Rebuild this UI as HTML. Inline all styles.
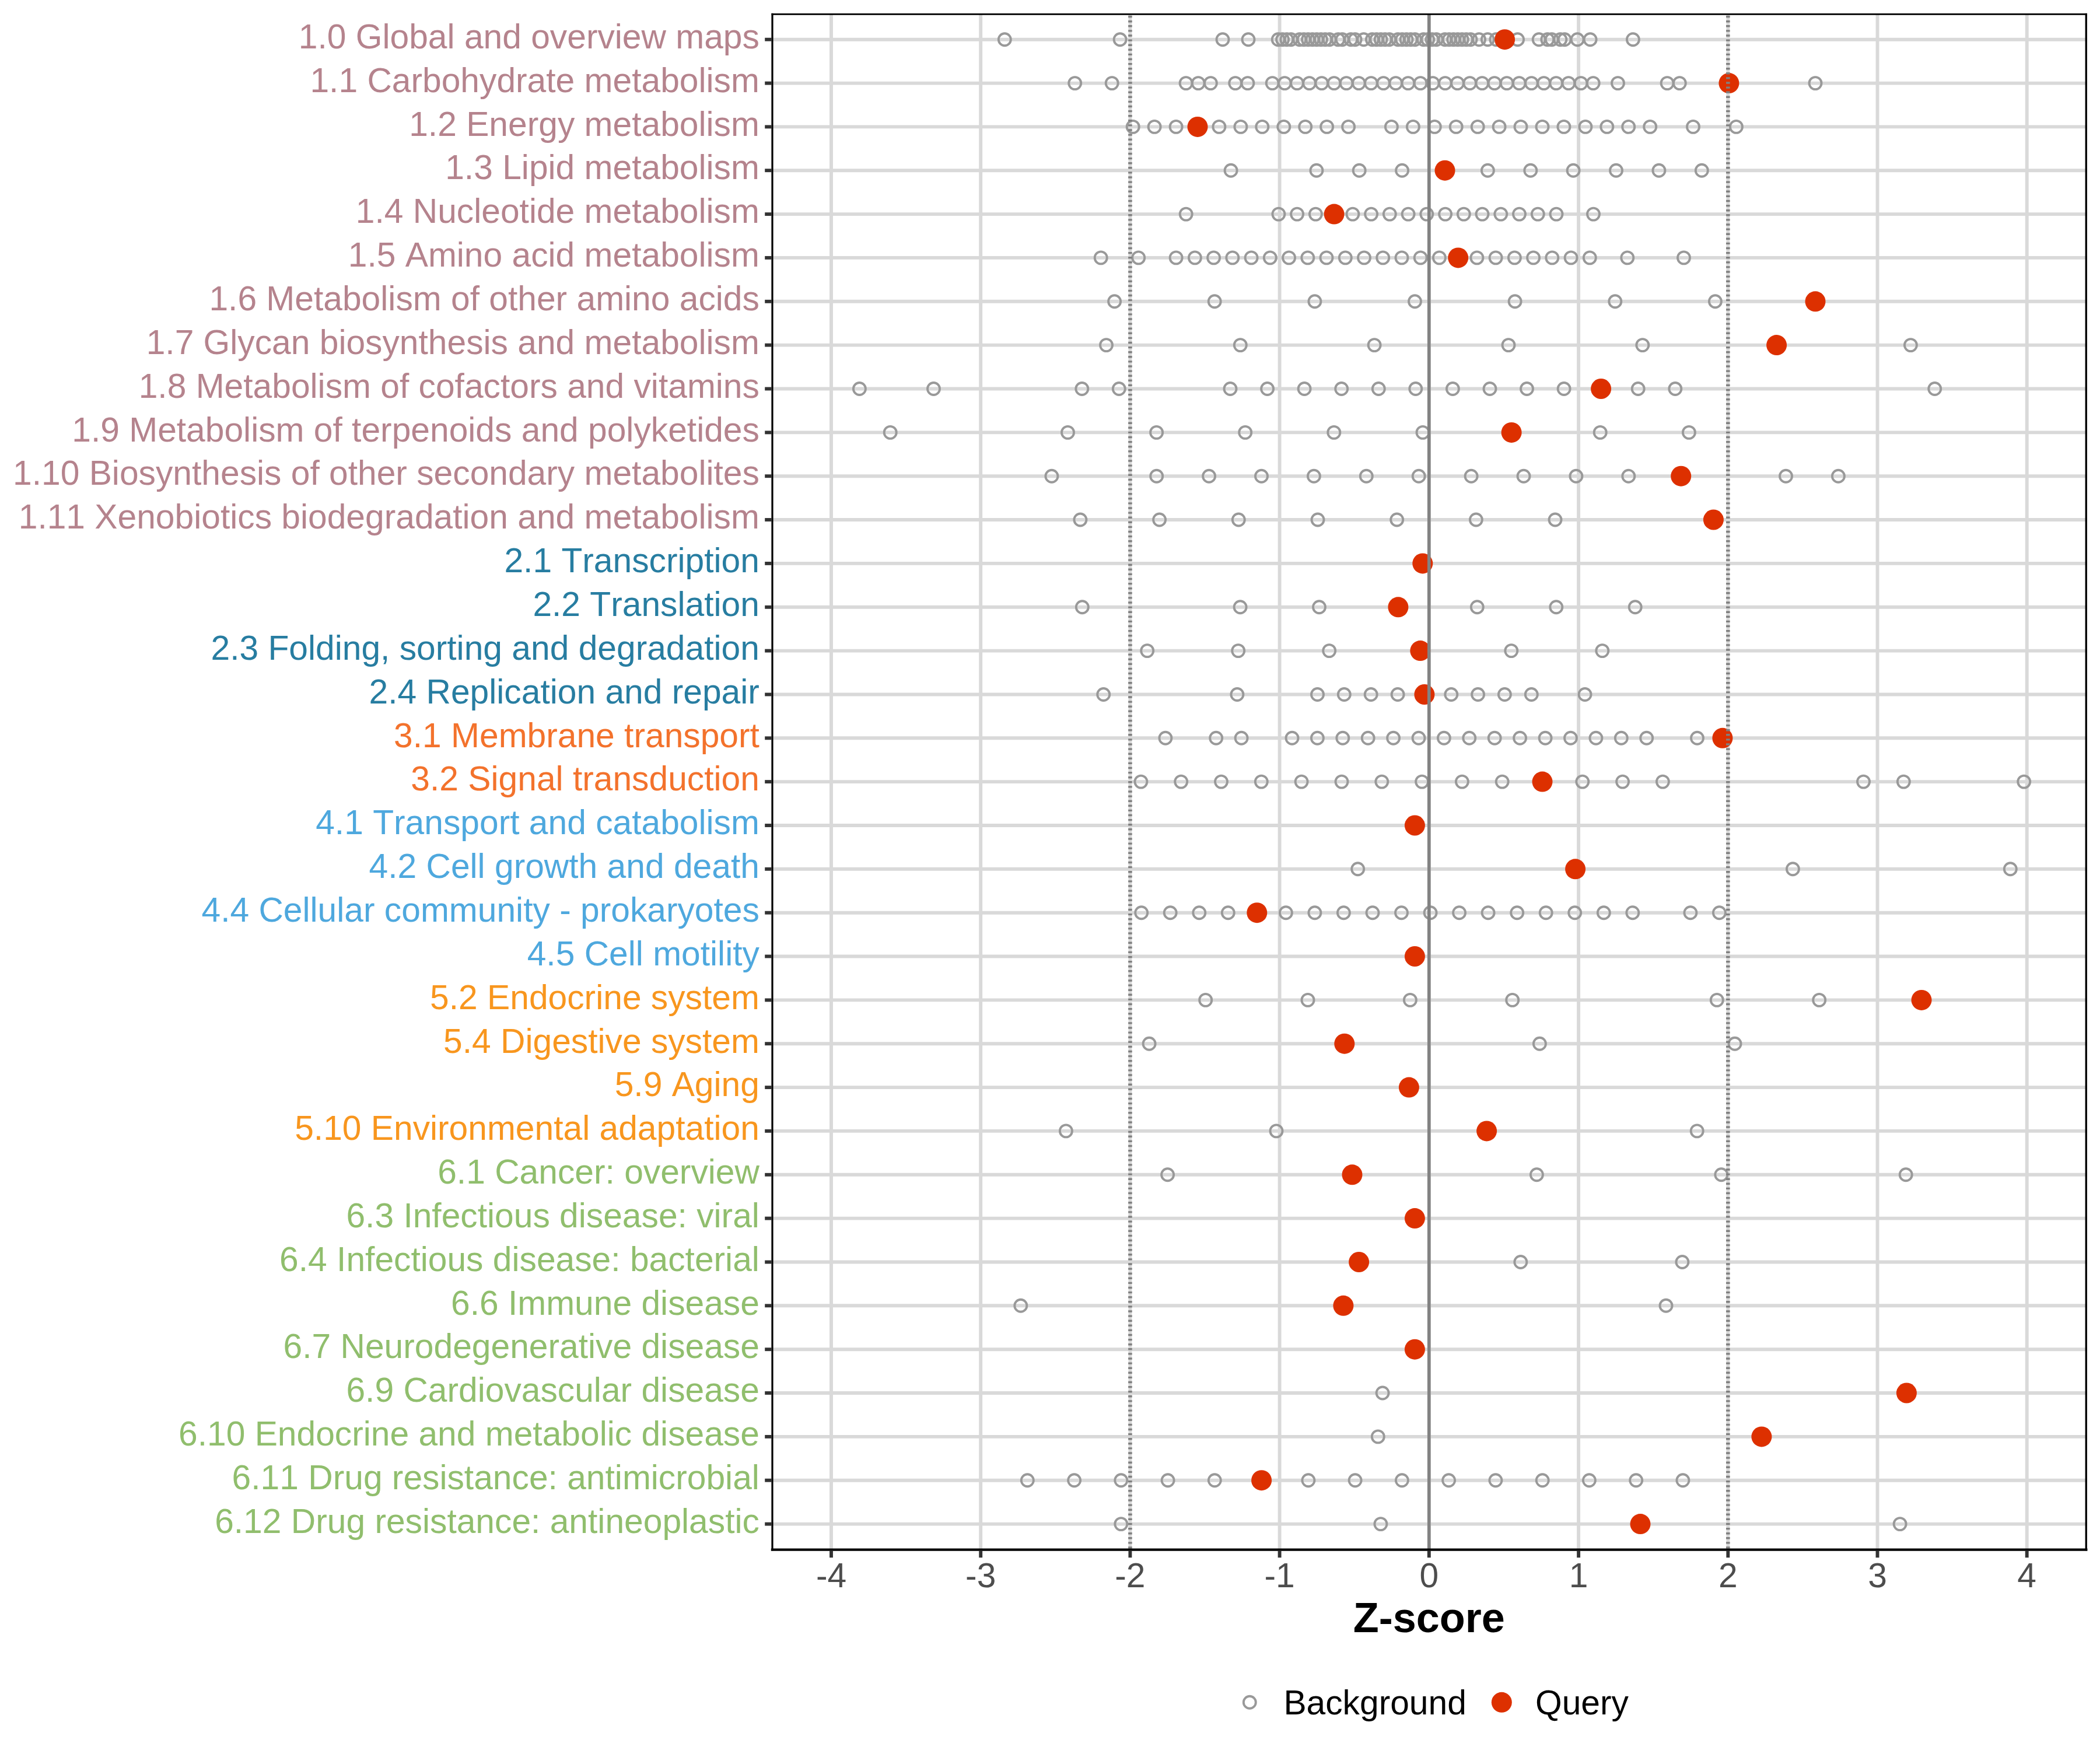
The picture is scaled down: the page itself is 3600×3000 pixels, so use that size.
<!DOCTYPE html>
<html><head><meta charset="utf-8"><title>Z-score</title>
<style>html,body{margin:0;padding:0;background:#fff}svg{display:block}text{font-family:"Liberation Sans",Arial,Helvetica,sans-serif;font-kerning:none}</style>
</head><body>
<svg width="3600" height="3000" viewBox="0 0 3600 3000">
<rect x="0" y="0" width="3600" height="3000" fill="#fff"/>
<g stroke="#D9D9D9" stroke-width="5.9" fill="none">
<line x1="1425.0" y1="22.9" x2="1425.0" y2="2658.8"/>
<line x1="1681.2" y1="22.9" x2="1681.2" y2="2658.8"/>
<line x1="1937.4" y1="22.9" x2="1937.4" y2="2658.8"/>
<line x1="2193.6" y1="22.9" x2="2193.6" y2="2658.8"/>
<line x1="2449.8" y1="22.9" x2="2449.8" y2="2658.8"/>
<line x1="2706.1" y1="22.9" x2="2706.1" y2="2658.8"/>
<line x1="2962.3" y1="22.9" x2="2962.3" y2="2658.8"/>
<line x1="3218.5" y1="22.9" x2="3218.5" y2="2658.8"/>
<line x1="3474.7" y1="22.9" x2="3474.7" y2="2658.8"/>
<line x1="1322.6" y1="67.7" x2="3577.9" y2="67.7"/>
<line x1="1322.6" y1="142.6" x2="3577.9" y2="142.6"/>
<line x1="1322.6" y1="217.4" x2="3577.9" y2="217.4"/>
<line x1="1322.6" y1="292.2" x2="3577.9" y2="292.2"/>
<line x1="1322.6" y1="367.1" x2="3577.9" y2="367.1"/>
<line x1="1322.6" y1="441.9" x2="3577.9" y2="441.9"/>
<line x1="1322.6" y1="516.8" x2="3577.9" y2="516.8"/>
<line x1="1322.6" y1="591.6" x2="3577.9" y2="591.6"/>
<line x1="1322.6" y1="666.5" x2="3577.9" y2="666.5"/>
<line x1="1322.6" y1="741.4" x2="3577.9" y2="741.4"/>
<line x1="1322.6" y1="816.2" x2="3577.9" y2="816.2"/>
<line x1="1322.6" y1="891.0" x2="3577.9" y2="891.0"/>
<line x1="1322.6" y1="965.9" x2="3577.9" y2="965.9"/>
<line x1="1322.6" y1="1040.8" x2="3577.9" y2="1040.8"/>
<line x1="1322.6" y1="1115.6" x2="3577.9" y2="1115.6"/>
<line x1="1322.6" y1="1190.5" x2="3577.9" y2="1190.5"/>
<line x1="1322.6" y1="1265.3" x2="3577.9" y2="1265.3"/>
<line x1="1322.6" y1="1340.1" x2="3577.9" y2="1340.1"/>
<line x1="1322.6" y1="1415.0" x2="3577.9" y2="1415.0"/>
<line x1="1322.6" y1="1489.8" x2="3577.9" y2="1489.8"/>
<line x1="1322.6" y1="1564.7" x2="3577.9" y2="1564.7"/>
<line x1="1322.6" y1="1639.5" x2="3577.9" y2="1639.5"/>
<line x1="1322.6" y1="1714.4" x2="3577.9" y2="1714.4"/>
<line x1="1322.6" y1="1789.2" x2="3577.9" y2="1789.2"/>
<line x1="1322.6" y1="1864.1" x2="3577.9" y2="1864.1"/>
<line x1="1322.6" y1="1938.9" x2="3577.9" y2="1938.9"/>
<line x1="1322.6" y1="2013.8" x2="3577.9" y2="2013.8"/>
<line x1="1322.6" y1="2088.6" x2="3577.9" y2="2088.6"/>
<line x1="1322.6" y1="2163.5" x2="3577.9" y2="2163.5"/>
<line x1="1322.6" y1="2238.3" x2="3577.9" y2="2238.3"/>
<line x1="1322.6" y1="2313.2" x2="3577.9" y2="2313.2"/>
<line x1="1322.6" y1="2388.0" x2="3577.9" y2="2388.0"/>
<line x1="1322.6" y1="2462.9" x2="3577.9" y2="2462.9"/>
<line x1="1322.6" y1="2537.7" x2="3577.9" y2="2537.7"/>
<line x1="1322.6" y1="2612.6" x2="3577.9" y2="2612.6"/>
</g>
<g fill="none" stroke="#999999" stroke-width="3.9">
<circle cx="1722.3" cy="67.7" r="10.5"/>
<circle cx="1920.1" cy="67.7" r="10.5"/>
<circle cx="2096.0" cy="67.7" r="10.5"/>
<circle cx="2140.0" cy="67.7" r="10.5"/>
<circle cx="2191.2" cy="67.7" r="10.5"/>
<circle cx="2198.6" cy="67.7" r="10.5"/>
<circle cx="2205.9" cy="67.7" r="10.5"/>
<circle cx="2213.2" cy="67.7" r="10.5"/>
<circle cx="2227.9" cy="67.7" r="10.5"/>
<circle cx="2235.2" cy="67.7" r="10.5"/>
<circle cx="2242.5" cy="67.7" r="10.5"/>
<circle cx="2249.9" cy="67.7" r="10.5"/>
<circle cx="2257.2" cy="67.7" r="10.5"/>
<circle cx="2264.5" cy="67.7" r="10.5"/>
<circle cx="2271.8" cy="67.7" r="10.5"/>
<circle cx="2279.2" cy="67.7" r="10.5"/>
<circle cx="2293.8" cy="67.7" r="10.5"/>
<circle cx="2301.1" cy="67.7" r="10.5"/>
<circle cx="2315.8" cy="67.7" r="10.5"/>
<circle cx="2323.1" cy="67.7" r="10.5"/>
<circle cx="2337.8" cy="67.7" r="10.5"/>
<circle cx="2352.4" cy="67.7" r="10.5"/>
<circle cx="2359.8" cy="67.7" r="10.5"/>
<circle cx="2367.1" cy="67.7" r="10.5"/>
<circle cx="2374.4" cy="67.7" r="10.5"/>
<circle cx="2381.7" cy="67.7" r="10.5"/>
<circle cx="2396.4" cy="67.7" r="10.5"/>
<circle cx="2403.7" cy="67.7" r="10.5"/>
<circle cx="2411.1" cy="67.7" r="10.5"/>
<circle cx="2418.4" cy="67.7" r="10.5"/>
<circle cx="2425.7" cy="67.7" r="10.5"/>
<circle cx="2440.4" cy="67.7" r="10.5"/>
<circle cx="2447.7" cy="67.7" r="10.5"/>
<circle cx="2455.0" cy="67.7" r="10.5"/>
<circle cx="2462.3" cy="67.7" r="10.5"/>
<circle cx="2477.0" cy="67.7" r="10.5"/>
<circle cx="2484.3" cy="67.7" r="10.5"/>
<circle cx="2491.7" cy="67.7" r="10.5"/>
<circle cx="2499.0" cy="67.7" r="10.5"/>
<circle cx="2506.3" cy="67.7" r="10.5"/>
<circle cx="2513.6" cy="67.7" r="10.5"/>
<circle cx="2521.0" cy="67.7" r="10.5"/>
<circle cx="2535.6" cy="67.7" r="10.5"/>
<circle cx="2550.3" cy="67.7" r="10.5"/>
<circle cx="2564.9" cy="67.7" r="10.5"/>
<circle cx="2601.6" cy="67.7" r="10.5"/>
<circle cx="2638.2" cy="67.7" r="10.5"/>
<circle cx="2652.8" cy="67.7" r="10.5"/>
<circle cx="2660.2" cy="67.7" r="10.5"/>
<circle cx="2674.8" cy="67.7" r="10.5"/>
<circle cx="2682.2" cy="67.7" r="10.5"/>
<circle cx="2704.1" cy="67.7" r="10.5"/>
<circle cx="2726.1" cy="67.7" r="10.5"/>
<circle cx="2799.4" cy="67.7" r="10.5"/>
<circle cx="1842.7" cy="142.6" r="10.5"/>
<circle cx="1906.2" cy="142.6" r="10.5"/>
<circle cx="2033.1" cy="142.6" r="10.5"/>
<circle cx="2054.2" cy="142.6" r="10.5"/>
<circle cx="2075.4" cy="142.6" r="10.5"/>
<circle cx="2117.7" cy="142.6" r="10.5"/>
<circle cx="2138.9" cy="142.6" r="10.5"/>
<circle cx="2181.2" cy="142.6" r="10.5"/>
<circle cx="2202.3" cy="142.6" r="10.5"/>
<circle cx="2223.5" cy="142.6" r="10.5"/>
<circle cx="2244.6" cy="142.6" r="10.5"/>
<circle cx="2265.8" cy="142.6" r="10.5"/>
<circle cx="2287.0" cy="142.6" r="10.5"/>
<circle cx="2308.1" cy="142.6" r="10.5"/>
<circle cx="2329.3" cy="142.6" r="10.5"/>
<circle cx="2350.4" cy="142.6" r="10.5"/>
<circle cx="2371.6" cy="142.6" r="10.5"/>
<circle cx="2392.7" cy="142.6" r="10.5"/>
<circle cx="2413.9" cy="142.6" r="10.5"/>
<circle cx="2435.0" cy="142.6" r="10.5"/>
<circle cx="2456.2" cy="142.6" r="10.5"/>
<circle cx="2477.4" cy="142.6" r="10.5"/>
<circle cx="2498.5" cy="142.6" r="10.5"/>
<circle cx="2519.7" cy="142.6" r="10.5"/>
<circle cx="2540.8" cy="142.6" r="10.5"/>
<circle cx="2562.0" cy="142.6" r="10.5"/>
<circle cx="2583.1" cy="142.6" r="10.5"/>
<circle cx="2604.3" cy="142.6" r="10.5"/>
<circle cx="2625.4" cy="142.6" r="10.5"/>
<circle cx="2646.6" cy="142.6" r="10.5"/>
<circle cx="2667.7" cy="142.6" r="10.5"/>
<circle cx="2688.9" cy="142.6" r="10.5"/>
<circle cx="2710.1" cy="142.6" r="10.5"/>
<circle cx="2731.2" cy="142.6" r="10.5"/>
<circle cx="2773.5" cy="142.6" r="10.5"/>
<circle cx="2858.1" cy="142.6" r="10.5"/>
<circle cx="2879.3" cy="142.6" r="10.5"/>
<circle cx="3112.0" cy="142.6" r="10.5"/>
<circle cx="1942.2" cy="217.4" r="10.5"/>
<circle cx="1979.1" cy="217.4" r="10.5"/>
<circle cx="2016.1" cy="217.4" r="10.5"/>
<circle cx="2089.9" cy="217.4" r="10.5"/>
<circle cx="2126.9" cy="217.4" r="10.5"/>
<circle cx="2163.8" cy="217.4" r="10.5"/>
<circle cx="2200.8" cy="217.4" r="10.5"/>
<circle cx="2237.7" cy="217.4" r="10.5"/>
<circle cx="2274.6" cy="217.4" r="10.5"/>
<circle cx="2311.6" cy="217.4" r="10.5"/>
<circle cx="2385.4" cy="217.4" r="10.5"/>
<circle cx="2422.4" cy="217.4" r="10.5"/>
<circle cx="2459.3" cy="217.4" r="10.5"/>
<circle cx="2496.2" cy="217.4" r="10.5"/>
<circle cx="2533.2" cy="217.4" r="10.5"/>
<circle cx="2570.1" cy="217.4" r="10.5"/>
<circle cx="2607.0" cy="217.4" r="10.5"/>
<circle cx="2644.0" cy="217.4" r="10.5"/>
<circle cx="2680.9" cy="217.4" r="10.5"/>
<circle cx="2717.9" cy="217.4" r="10.5"/>
<circle cx="2754.8" cy="217.4" r="10.5"/>
<circle cx="2791.7" cy="217.4" r="10.5"/>
<circle cx="2828.7" cy="217.4" r="10.5"/>
<circle cx="2902.5" cy="217.4" r="10.5"/>
<circle cx="2976.4" cy="217.4" r="10.5"/>
<circle cx="2110.1" cy="292.2" r="10.5"/>
<circle cx="2256.9" cy="292.2" r="10.5"/>
<circle cx="2330.2" cy="292.2" r="10.5"/>
<circle cx="2403.6" cy="292.2" r="10.5"/>
<circle cx="2550.4" cy="292.2" r="10.5"/>
<circle cx="2623.8" cy="292.2" r="10.5"/>
<circle cx="2697.1" cy="292.2" r="10.5"/>
<circle cx="2770.5" cy="292.2" r="10.5"/>
<circle cx="2843.9" cy="292.2" r="10.5"/>
<circle cx="2917.3" cy="292.2" r="10.5"/>
<circle cx="2033.2" cy="367.1" r="10.5"/>
<circle cx="2191.9" cy="367.1" r="10.5"/>
<circle cx="2223.6" cy="367.1" r="10.5"/>
<circle cx="2255.4" cy="367.1" r="10.5"/>
<circle cx="2318.9" cy="367.1" r="10.5"/>
<circle cx="2350.6" cy="367.1" r="10.5"/>
<circle cx="2382.3" cy="367.1" r="10.5"/>
<circle cx="2414.1" cy="367.1" r="10.5"/>
<circle cx="2445.8" cy="367.1" r="10.5"/>
<circle cx="2477.6" cy="367.1" r="10.5"/>
<circle cx="2509.3" cy="367.1" r="10.5"/>
<circle cx="2541.0" cy="367.1" r="10.5"/>
<circle cx="2572.8" cy="367.1" r="10.5"/>
<circle cx="2604.5" cy="367.1" r="10.5"/>
<circle cx="2636.3" cy="367.1" r="10.5"/>
<circle cx="2668.0" cy="367.1" r="10.5"/>
<circle cx="2731.5" cy="367.1" r="10.5"/>
<circle cx="1887.2" cy="441.9" r="10.5"/>
<circle cx="1951.7" cy="441.9" r="10.5"/>
<circle cx="2016.1" cy="441.9" r="10.5"/>
<circle cx="2048.4" cy="441.9" r="10.5"/>
<circle cx="2080.6" cy="441.9" r="10.5"/>
<circle cx="2112.8" cy="441.9" r="10.5"/>
<circle cx="2145.1" cy="441.9" r="10.5"/>
<circle cx="2177.3" cy="441.9" r="10.5"/>
<circle cx="2209.6" cy="441.9" r="10.5"/>
<circle cx="2241.8" cy="441.9" r="10.5"/>
<circle cx="2274.0" cy="441.9" r="10.5"/>
<circle cx="2306.3" cy="441.9" r="10.5"/>
<circle cx="2338.5" cy="441.9" r="10.5"/>
<circle cx="2370.7" cy="441.9" r="10.5"/>
<circle cx="2403.0" cy="441.9" r="10.5"/>
<circle cx="2435.2" cy="441.9" r="10.5"/>
<circle cx="2467.4" cy="441.9" r="10.5"/>
<circle cx="2531.9" cy="441.9" r="10.5"/>
<circle cx="2564.1" cy="441.9" r="10.5"/>
<circle cx="2596.4" cy="441.9" r="10.5"/>
<circle cx="2628.6" cy="441.9" r="10.5"/>
<circle cx="2660.8" cy="441.9" r="10.5"/>
<circle cx="2693.1" cy="441.9" r="10.5"/>
<circle cx="2725.3" cy="441.9" r="10.5"/>
<circle cx="2789.8" cy="441.9" r="10.5"/>
<circle cx="2886.5" cy="441.9" r="10.5"/>
<circle cx="1910.6" cy="516.8" r="10.5"/>
<circle cx="2082.2" cy="516.8" r="10.5"/>
<circle cx="2253.9" cy="516.8" r="10.5"/>
<circle cx="2425.5" cy="516.8" r="10.5"/>
<circle cx="2597.1" cy="516.8" r="10.5"/>
<circle cx="2768.8" cy="516.8" r="10.5"/>
<circle cx="2940.4" cy="516.8" r="10.5"/>
<circle cx="1896.5" cy="591.6" r="10.5"/>
<circle cx="2126.3" cy="591.6" r="10.5"/>
<circle cx="2356.1" cy="591.6" r="10.5"/>
<circle cx="2586.0" cy="591.6" r="10.5"/>
<circle cx="2815.8" cy="591.6" r="10.5"/>
<circle cx="3275.4" cy="591.6" r="10.5"/>
<circle cx="1473.4" cy="666.5" r="10.5"/>
<circle cx="1600.5" cy="666.5" r="10.5"/>
<circle cx="1854.8" cy="666.5" r="10.5"/>
<circle cx="1918.3" cy="666.5" r="10.5"/>
<circle cx="2109.0" cy="666.5" r="10.5"/>
<circle cx="2172.6" cy="666.5" r="10.5"/>
<circle cx="2236.1" cy="666.5" r="10.5"/>
<circle cx="2299.7" cy="666.5" r="10.5"/>
<circle cx="2363.3" cy="666.5" r="10.5"/>
<circle cx="2426.8" cy="666.5" r="10.5"/>
<circle cx="2490.4" cy="666.5" r="10.5"/>
<circle cx="2554.0" cy="666.5" r="10.5"/>
<circle cx="2617.5" cy="666.5" r="10.5"/>
<circle cx="2681.1" cy="666.5" r="10.5"/>
<circle cx="2808.2" cy="666.5" r="10.5"/>
<circle cx="2871.8" cy="666.5" r="10.5"/>
<circle cx="3316.7" cy="666.5" r="10.5"/>
<circle cx="1526.2" cy="741.4" r="10.5"/>
<circle cx="1830.5" cy="741.4" r="10.5"/>
<circle cx="1982.6" cy="741.4" r="10.5"/>
<circle cx="2134.7" cy="741.4" r="10.5"/>
<circle cx="2286.8" cy="741.4" r="10.5"/>
<circle cx="2439.0" cy="741.4" r="10.5"/>
<circle cx="2743.2" cy="741.4" r="10.5"/>
<circle cx="2895.4" cy="741.4" r="10.5"/>
<circle cx="1802.9" cy="816.2" r="10.5"/>
<circle cx="1982.7" cy="816.2" r="10.5"/>
<circle cx="2072.6" cy="816.2" r="10.5"/>
<circle cx="2162.5" cy="816.2" r="10.5"/>
<circle cx="2252.4" cy="816.2" r="10.5"/>
<circle cx="2342.3" cy="816.2" r="10.5"/>
<circle cx="2432.2" cy="816.2" r="10.5"/>
<circle cx="2522.1" cy="816.2" r="10.5"/>
<circle cx="2612.0" cy="816.2" r="10.5"/>
<circle cx="2701.9" cy="816.2" r="10.5"/>
<circle cx="2791.8" cy="816.2" r="10.5"/>
<circle cx="3061.5" cy="816.2" r="10.5"/>
<circle cx="3151.4" cy="816.2" r="10.5"/>
<circle cx="1851.9" cy="891.0" r="10.5"/>
<circle cx="1987.6" cy="891.0" r="10.5"/>
<circle cx="2123.3" cy="891.0" r="10.5"/>
<circle cx="2259.0" cy="891.0" r="10.5"/>
<circle cx="2394.7" cy="891.0" r="10.5"/>
<circle cx="2530.4" cy="891.0" r="10.5"/>
<circle cx="2666.0" cy="891.0" r="10.5"/>
<circle cx="1855.3" cy="1040.8" r="10.5"/>
<circle cx="2126.1" cy="1040.8" r="10.5"/>
<circle cx="2261.5" cy="1040.8" r="10.5"/>
<circle cx="2532.3" cy="1040.8" r="10.5"/>
<circle cx="2667.8" cy="1040.8" r="10.5"/>
<circle cx="2803.2" cy="1040.8" r="10.5"/>
<circle cx="1966.7" cy="1115.6" r="10.5"/>
<circle cx="2122.7" cy="1115.6" r="10.5"/>
<circle cx="2278.7" cy="1115.6" r="10.5"/>
<circle cx="2590.8" cy="1115.6" r="10.5"/>
<circle cx="2746.8" cy="1115.6" r="10.5"/>
<circle cx="1891.7" cy="1190.5" r="10.5"/>
<circle cx="2120.9" cy="1190.5" r="10.5"/>
<circle cx="2258.5" cy="1190.5" r="10.5"/>
<circle cx="2304.3" cy="1190.5" r="10.5"/>
<circle cx="2350.2" cy="1190.5" r="10.5"/>
<circle cx="2396.1" cy="1190.5" r="10.5"/>
<circle cx="2487.8" cy="1190.5" r="10.5"/>
<circle cx="2533.6" cy="1190.5" r="10.5"/>
<circle cx="2579.4" cy="1190.5" r="10.5"/>
<circle cx="2625.3" cy="1190.5" r="10.5"/>
<circle cx="2717.0" cy="1190.5" r="10.5"/>
<circle cx="1997.9" cy="1265.3" r="10.5"/>
<circle cx="2084.7" cy="1265.3" r="10.5"/>
<circle cx="2128.1" cy="1265.3" r="10.5"/>
<circle cx="2215.0" cy="1265.3" r="10.5"/>
<circle cx="2258.4" cy="1265.3" r="10.5"/>
<circle cx="2301.8" cy="1265.3" r="10.5"/>
<circle cx="2345.2" cy="1265.3" r="10.5"/>
<circle cx="2388.6" cy="1265.3" r="10.5"/>
<circle cx="2432.0" cy="1265.3" r="10.5"/>
<circle cx="2475.4" cy="1265.3" r="10.5"/>
<circle cx="2518.8" cy="1265.3" r="10.5"/>
<circle cx="2562.2" cy="1265.3" r="10.5"/>
<circle cx="2605.6" cy="1265.3" r="10.5"/>
<circle cx="2649.1" cy="1265.3" r="10.5"/>
<circle cx="2692.5" cy="1265.3" r="10.5"/>
<circle cx="2735.9" cy="1265.3" r="10.5"/>
<circle cx="2779.3" cy="1265.3" r="10.5"/>
<circle cx="2822.7" cy="1265.3" r="10.5"/>
<circle cx="2909.5" cy="1265.3" r="10.5"/>
<circle cx="1955.9" cy="1340.1" r="10.5"/>
<circle cx="2024.7" cy="1340.1" r="10.5"/>
<circle cx="2093.5" cy="1340.1" r="10.5"/>
<circle cx="2162.3" cy="1340.1" r="10.5"/>
<circle cx="2231.1" cy="1340.1" r="10.5"/>
<circle cx="2300.0" cy="1340.1" r="10.5"/>
<circle cx="2368.8" cy="1340.1" r="10.5"/>
<circle cx="2437.6" cy="1340.1" r="10.5"/>
<circle cx="2506.4" cy="1340.1" r="10.5"/>
<circle cx="2575.2" cy="1340.1" r="10.5"/>
<circle cx="2712.8" cy="1340.1" r="10.5"/>
<circle cx="2781.6" cy="1340.1" r="10.5"/>
<circle cx="2850.4" cy="1340.1" r="10.5"/>
<circle cx="3194.5" cy="1340.1" r="10.5"/>
<circle cx="3263.3" cy="1340.1" r="10.5"/>
<circle cx="3469.7" cy="1340.1" r="10.5"/>
<circle cx="2327.7" cy="1489.8" r="10.5"/>
<circle cx="3073.4" cy="1489.8" r="10.5"/>
<circle cx="3446.3" cy="1489.8" r="10.5"/>
<circle cx="1956.7" cy="1564.7" r="10.5"/>
<circle cx="2006.2" cy="1564.7" r="10.5"/>
<circle cx="2055.8" cy="1564.7" r="10.5"/>
<circle cx="2105.3" cy="1564.7" r="10.5"/>
<circle cx="2204.4" cy="1564.7" r="10.5"/>
<circle cx="2253.9" cy="1564.7" r="10.5"/>
<circle cx="2303.4" cy="1564.7" r="10.5"/>
<circle cx="2353.0" cy="1564.7" r="10.5"/>
<circle cx="2402.5" cy="1564.7" r="10.5"/>
<circle cx="2452.1" cy="1564.7" r="10.5"/>
<circle cx="2501.6" cy="1564.7" r="10.5"/>
<circle cx="2551.1" cy="1564.7" r="10.5"/>
<circle cx="2600.7" cy="1564.7" r="10.5"/>
<circle cx="2650.2" cy="1564.7" r="10.5"/>
<circle cx="2699.7" cy="1564.7" r="10.5"/>
<circle cx="2749.3" cy="1564.7" r="10.5"/>
<circle cx="2798.8" cy="1564.7" r="10.5"/>
<circle cx="2897.9" cy="1564.7" r="10.5"/>
<circle cx="2947.4" cy="1564.7" r="10.5"/>
<circle cx="2066.7" cy="1714.4" r="10.5"/>
<circle cx="2242.0" cy="1714.4" r="10.5"/>
<circle cx="2417.4" cy="1714.4" r="10.5"/>
<circle cx="2592.7" cy="1714.4" r="10.5"/>
<circle cx="2943.3" cy="1714.4" r="10.5"/>
<circle cx="3118.7" cy="1714.4" r="10.5"/>
<circle cx="1970.1" cy="1789.2" r="10.5"/>
<circle cx="2639.4" cy="1789.2" r="10.5"/>
<circle cx="2974.0" cy="1789.2" r="10.5"/>
<circle cx="1827.4" cy="1938.9" r="10.5"/>
<circle cx="2188.0" cy="1938.9" r="10.5"/>
<circle cx="2909.2" cy="1938.9" r="10.5"/>
<circle cx="2001.6" cy="2013.8" r="10.5"/>
<circle cx="2634.4" cy="2013.8" r="10.5"/>
<circle cx="2950.8" cy="2013.8" r="10.5"/>
<circle cx="3267.2" cy="2013.8" r="10.5"/>
<circle cx="2606.8" cy="2163.5" r="10.5"/>
<circle cx="2883.9" cy="2163.5" r="10.5"/>
<circle cx="1749.8" cy="2238.3" r="10.5"/>
<circle cx="2856.0" cy="2238.3" r="10.5"/>
<circle cx="2370.1" cy="2388.0" r="10.5"/>
<circle cx="2362.3" cy="2462.9" r="10.5"/>
<circle cx="1761.3" cy="2537.7" r="10.5"/>
<circle cx="1841.6" cy="2537.7" r="10.5"/>
<circle cx="1921.8" cy="2537.7" r="10.5"/>
<circle cx="2002.1" cy="2537.7" r="10.5"/>
<circle cx="2082.3" cy="2537.7" r="10.5"/>
<circle cx="2242.9" cy="2537.7" r="10.5"/>
<circle cx="2323.1" cy="2537.7" r="10.5"/>
<circle cx="2403.4" cy="2537.7" r="10.5"/>
<circle cx="2483.6" cy="2537.7" r="10.5"/>
<circle cx="2563.9" cy="2537.7" r="10.5"/>
<circle cx="2644.2" cy="2537.7" r="10.5"/>
<circle cx="2724.4" cy="2537.7" r="10.5"/>
<circle cx="2804.7" cy="2537.7" r="10.5"/>
<circle cx="2884.9" cy="2537.7" r="10.5"/>
<circle cx="1921.8" cy="2612.6" r="10.5"/>
<circle cx="2366.9" cy="2612.6" r="10.5"/>
<circle cx="3257.1" cy="2612.6" r="10.5"/>
</g>
<g fill="#DD3000">
<circle cx="2579.6" cy="67.7" r="17.5"/>
<circle cx="2963.9" cy="142.6" r="17.5"/>
<circle cx="2053.0" cy="217.4" r="17.5"/>
<circle cx="2477.0" cy="292.2" r="17.5"/>
<circle cx="2287.1" cy="367.1" r="17.5"/>
<circle cx="2499.7" cy="441.9" r="17.5"/>
<circle cx="3112.0" cy="516.8" r="17.5"/>
<circle cx="3045.6" cy="591.6" r="17.5"/>
<circle cx="2744.6" cy="666.5" r="17.5"/>
<circle cx="2591.1" cy="741.4" r="17.5"/>
<circle cx="2881.7" cy="816.2" r="17.5"/>
<circle cx="2937.4" cy="891.0" r="17.5"/>
<circle cx="2438.8" cy="965.9" r="17.5"/>
<circle cx="2396.9" cy="1040.8" r="17.5"/>
<circle cx="2434.8" cy="1115.6" r="17.5"/>
<circle cx="2441.9" cy="1190.5" r="17.5"/>
<circle cx="2952.9" cy="1265.3" r="17.5"/>
<circle cx="2644.0" cy="1340.1" r="17.5"/>
<circle cx="2425.4" cy="1415.0" r="17.5"/>
<circle cx="2700.6" cy="1489.8" r="17.5"/>
<circle cx="2154.8" cy="1564.7" r="17.5"/>
<circle cx="2425.4" cy="1639.5" r="17.5"/>
<circle cx="3294.0" cy="1714.4" r="17.5"/>
<circle cx="2304.8" cy="1789.2" r="17.5"/>
<circle cx="2415.4" cy="1864.1" r="17.5"/>
<circle cx="2548.6" cy="1938.9" r="17.5"/>
<circle cx="2318.0" cy="2013.8" r="17.5"/>
<circle cx="2425.4" cy="2088.6" r="17.5"/>
<circle cx="2329.6" cy="2163.5" r="17.5"/>
<circle cx="2302.9" cy="2238.3" r="17.5"/>
<circle cx="2425.4" cy="2313.2" r="17.5"/>
<circle cx="3268.4" cy="2388.0" r="17.5"/>
<circle cx="3019.9" cy="2462.9" r="17.5"/>
<circle cx="2162.6" cy="2537.7" r="17.5"/>
<circle cx="2812.0" cy="2612.6" r="17.5"/>
</g>
<line x1="2449.8" y1="22.9" x2="2449.8" y2="2658.8" stroke="#828282" stroke-width="5.6"/>
<line x1="1937.4" y1="26.9" x2="1937.4" y2="2658.8" stroke="#808080" stroke-width="6.6" stroke-dasharray="3.4 4.7"/>
<line x1="2962.3" y1="26.9" x2="2962.3" y2="2658.8" stroke="#808080" stroke-width="6.6" stroke-dasharray="3.4 4.7"/>
<g stroke="#000" fill="none" stroke-linecap="square">
<line x1="1324.0" y1="24.35" x2="3576.25" y2="24.35" stroke-width="2.8"/>
<line x1="1324.0" y1="24.35" x2="1324.0" y2="2656.6" stroke-width="3.2"/>
<line x1="3576.25" y1="24.35" x2="3576.25" y2="2656.6" stroke-width="3.3"/>
<line x1="1324.0" y1="2656.6" x2="3576.25" y2="2656.6" stroke-width="4.4"/>
</g>
<g stroke="#333333" stroke-width="5.9">
<line x1="1311.2" y1="67.7" x2="1322.6" y2="67.7"/>
<line x1="1311.2" y1="142.6" x2="1322.6" y2="142.6"/>
<line x1="1311.2" y1="217.4" x2="1322.6" y2="217.4"/>
<line x1="1311.2" y1="292.2" x2="1322.6" y2="292.2"/>
<line x1="1311.2" y1="367.1" x2="1322.6" y2="367.1"/>
<line x1="1311.2" y1="441.9" x2="1322.6" y2="441.9"/>
<line x1="1311.2" y1="516.8" x2="1322.6" y2="516.8"/>
<line x1="1311.2" y1="591.6" x2="1322.6" y2="591.6"/>
<line x1="1311.2" y1="666.5" x2="1322.6" y2="666.5"/>
<line x1="1311.2" y1="741.4" x2="1322.6" y2="741.4"/>
<line x1="1311.2" y1="816.2" x2="1322.6" y2="816.2"/>
<line x1="1311.2" y1="891.0" x2="1322.6" y2="891.0"/>
<line x1="1311.2" y1="965.9" x2="1322.6" y2="965.9"/>
<line x1="1311.2" y1="1040.8" x2="1322.6" y2="1040.8"/>
<line x1="1311.2" y1="1115.6" x2="1322.6" y2="1115.6"/>
<line x1="1311.2" y1="1190.5" x2="1322.6" y2="1190.5"/>
<line x1="1311.2" y1="1265.3" x2="1322.6" y2="1265.3"/>
<line x1="1311.2" y1="1340.1" x2="1322.6" y2="1340.1"/>
<line x1="1311.2" y1="1415.0" x2="1322.6" y2="1415.0"/>
<line x1="1311.2" y1="1489.8" x2="1322.6" y2="1489.8"/>
<line x1="1311.2" y1="1564.7" x2="1322.6" y2="1564.7"/>
<line x1="1311.2" y1="1639.5" x2="1322.6" y2="1639.5"/>
<line x1="1311.2" y1="1714.4" x2="1322.6" y2="1714.4"/>
<line x1="1311.2" y1="1789.2" x2="1322.6" y2="1789.2"/>
<line x1="1311.2" y1="1864.1" x2="1322.6" y2="1864.1"/>
<line x1="1311.2" y1="1938.9" x2="1322.6" y2="1938.9"/>
<line x1="1311.2" y1="2013.8" x2="1322.6" y2="2013.8"/>
<line x1="1311.2" y1="2088.6" x2="1322.6" y2="2088.6"/>
<line x1="1311.2" y1="2163.5" x2="1322.6" y2="2163.5"/>
<line x1="1311.2" y1="2238.3" x2="1322.6" y2="2238.3"/>
<line x1="1311.2" y1="2313.2" x2="1322.6" y2="2313.2"/>
<line x1="1311.2" y1="2388.0" x2="1322.6" y2="2388.0"/>
<line x1="1311.2" y1="2462.9" x2="1322.6" y2="2462.9"/>
<line x1="1311.2" y1="2537.7" x2="1322.6" y2="2537.7"/>
<line x1="1311.2" y1="2612.6" x2="1322.6" y2="2612.6"/>
<line x1="1425.0" y1="2658.8" x2="1425.0" y2="2670.2"/>
<line x1="1681.2" y1="2658.8" x2="1681.2" y2="2670.2"/>
<line x1="1937.4" y1="2658.8" x2="1937.4" y2="2670.2"/>
<line x1="2193.6" y1="2658.8" x2="2193.6" y2="2670.2"/>
<line x1="2449.8" y1="2658.8" x2="2449.8" y2="2670.2"/>
<line x1="2706.1" y1="2658.8" x2="2706.1" y2="2670.2"/>
<line x1="2962.3" y1="2658.8" x2="2962.3" y2="2670.2"/>
<line x1="3218.5" y1="2658.8" x2="3218.5" y2="2670.2"/>
<line x1="3474.7" y1="2658.8" x2="3474.7" y2="2670.2"/>
</g>
<g font-size="58.74" text-anchor="end">
<text x="1301.9" y="82.9" fill="#B5838D">1.0 Global and overview maps</text>
<text x="1301.9" y="157.8" fill="#B5838D">1.1 Carbohydrate metabolism</text>
<text x="1301.9" y="232.6" fill="#B5838D">1.2 Energy metabolism</text>
<text x="1301.9" y="307.4" fill="#B5838D">1.3 Lipid metabolism</text>
<text x="1301.9" y="382.3" fill="#B5838D">1.4 Nucleotide metabolism</text>
<text x="1301.9" y="457.1" fill="#B5838D">1.5 Amino acid metabolism</text>
<text x="1301.9" y="532.0" fill="#B5838D">1.6 Metabolism of other amino acids</text>
<text x="1301.9" y="606.9" fill="#B5838D">1.7 Glycan biosynthesis and metabolism</text>
<text x="1301.9" y="681.7" fill="#B5838D">1.8 Metabolism of cofactors and vitamins</text>
<text x="1301.9" y="756.6" fill="#B5838D">1.9 Metabolism of terpenoids and polyketides</text>
<text x="1301.9" y="831.4" fill="#B5838D">1.10 Biosynthesis of other secondary metabolites</text>
<text x="1301.9" y="906.2" fill="#B5838D">1.11 Xenobiotics biodegradation and metabolism</text>
<text x="1301.9" y="981.1" fill="#277DA1">2.1 Transcription</text>
<text x="1301.9" y="1056.0" fill="#277DA1">2.2 Translation</text>
<text x="1301.9" y="1130.8" fill="#277DA1">2.3 Folding, sorting and degradation</text>
<text x="1301.9" y="1205.7" fill="#277DA1">2.4 Replication and repair</text>
<text x="1301.9" y="1280.5" fill="#F3722C">3.1 Membrane transport</text>
<text x="1301.9" y="1355.3" fill="#F3722C">3.2 Signal transduction</text>
<text x="1301.9" y="1430.2" fill="#4EA8DE">4.1 Transport and catabolism</text>
<text x="1301.9" y="1505.0" fill="#4EA8DE">4.2 Cell growth and death</text>
<text x="1301.9" y="1579.9" fill="#4EA8DE">4.4 Cellular community - prokaryotes</text>
<text x="1301.9" y="1654.8" fill="#4EA8DE">4.5 Cell motility</text>
<text x="1301.9" y="1729.6" fill="#F8961E">5.2 Endocrine system</text>
<text x="1301.9" y="1804.5" fill="#F8961E">5.4 Digestive system</text>
<text x="1301.9" y="1879.3" fill="#F8961E">5.9 Aging</text>
<text x="1301.9" y="1954.1" fill="#F8961E">5.10 Environmental adaptation</text>
<text x="1301.9" y="2029.0" fill="#90BE6D">6.1 Cancer: overview</text>
<text x="1301.9" y="2103.8" fill="#90BE6D">6.3 Infectious disease: viral</text>
<text x="1301.9" y="2178.7" fill="#90BE6D">6.4 Infectious disease: bacterial</text>
<text x="1301.9" y="2253.5" fill="#90BE6D">6.6 Immune disease</text>
<text x="1301.9" y="2328.4" fill="#90BE6D">6.7 Neurodegenerative disease</text>
<text x="1301.9" y="2403.2" fill="#90BE6D">6.9 Cardiovascular disease</text>
<text x="1301.9" y="2478.1" fill="#90BE6D">6.10 Endocrine and metabolic disease</text>
<text x="1301.9" y="2552.9" fill="#90BE6D">6.11 Drug resistance: antimicrobial</text>
<text x="1301.9" y="2627.8" fill="#90BE6D">6.12 Drug resistance: antineoplastic</text>
</g>
<g font-size="58.74" text-anchor="middle" fill="#4D4D4D">
<text x="1425.0" y="2721">-4</text>
<text x="1681.2" y="2721">-3</text>
<text x="1937.4" y="2721">-2</text>
<text x="2193.6" y="2721">-1</text>
<text x="2449.8" y="2721">0</text>
<text x="2706.1" y="2721">1</text>
<text x="2962.3" y="2721">2</text>
<text x="3218.5" y="2721">3</text>
<text x="3474.7" y="2721">4</text>
</g>
<text x="2449.8" y="2797.7" font-size="72" font-weight="bold" text-anchor="middle" fill="#000">Z-score</text>
<circle cx="2142.3" cy="2918.3" r="10.5" fill="none" stroke="#999999" stroke-width="3.9"/>
<circle cx="2574.3" cy="2918.3" r="17.5" fill="#DD3000"/>
<text x="2200.4" y="2939.3" font-size="58.74" fill="#000">Background</text>
<text x="2632" y="2939.3" font-size="58.74" fill="#000">Query</text>
</svg></body></html>
